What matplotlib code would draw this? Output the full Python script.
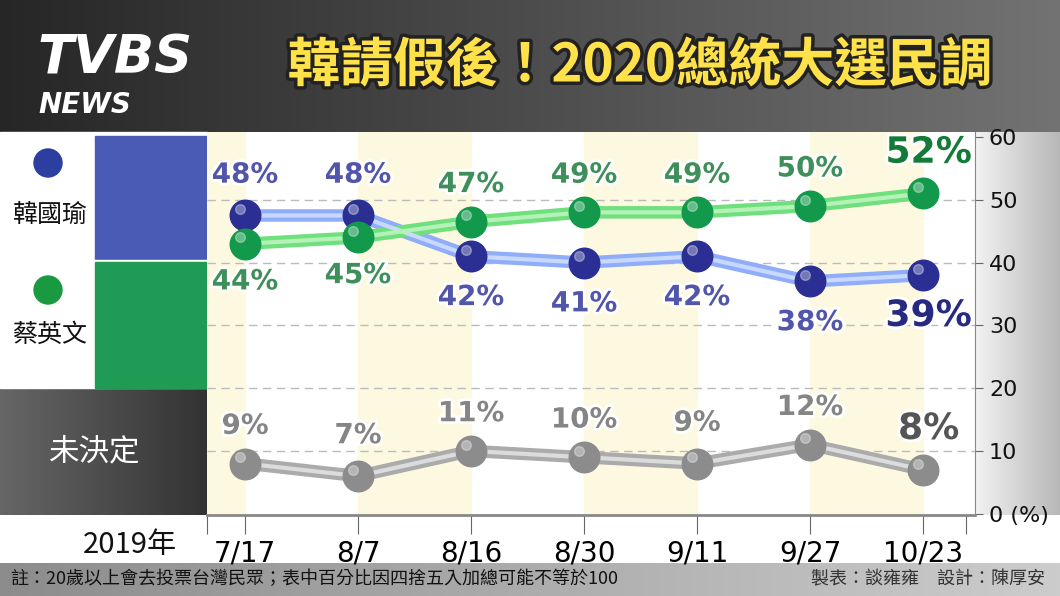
import matplotlib
matplotlib.use("Agg")
import matplotlib.pyplot as plt
import matplotlib.patheffects as pe
from matplotlib.patches import Rectangle, Circle
import numpy as np

plt.rcParams["font.family"] = ["Noto Sans CJK TC", "DejaVu Sans"]

DATES = ["7/17", "8/7", "8/16", "8/30", "9/11", "9/27", "10/23"]
# labelled poll numbers
HAN = [48, 48, 42, 41, 42, 38, 39]
TSAI = [44, 45, 47, 49, 49, 50, 52]
UNDECIDED = [9, 7, 11, 10, 9, 12, 8]
# marker heights as drawn in the picture
HAN_MARK = [47.5, 47.5, 41, 40, 41, 37, 38]
TSAI_MARK = [43, 44, 46.5, 48, 48, 49, 51]
UND_MARK = [8, 6, 10, 9, 8, 11, 7]
Y_TICKS = [0, 10, 20, 30, 40, 50, 60]

W, H = 1060, 596
fig = plt.figure(figsize=(W / 100, H / 100), dpi=100)
fig.patch.set_facecolor("white")


def fx(px):
    return px / W


def fy(py):
    return 1 - py / H


# background layer in pixel coordinates
bg = fig.add_axes([0, 0, 1, 1])
bg.set_xlim(0, W)
bg.set_ylim(H, 0)
bg.axis("off")

# top banner gradient
grad = np.linspace(0.15, 0.45, 256).reshape(1, -1)
bg.imshow(np.dstack([grad] * 3), extent=(0, W, 132, 0), aspect="auto")
# right metallic strip
bg.imshow(np.dstack([np.linspace(0.95, 0.72, 64).reshape(1, -1)] * 3),
          extent=(975, W, 515, 132), aspect="auto")
# bottom note bar
bg.imshow(np.dstack([np.linspace(0.55, 0.8, 256).reshape(1, -1)] * 3),
          extent=(0, W, 596, 563), aspect="auto")

# left panel
bg.add_patch(Rectangle((0, 132), 207, 128, color="white"))
bg.add_patch(Rectangle((95, 136), 112, 124, color="#4a5bb5"))
bg.add_patch(Rectangle((0, 260), 207, 128, color="white"))
bg.add_patch(Rectangle((95, 262), 112, 126, color="#1f9b55"))
bg.imshow(np.dstack([np.linspace(0.4, 0.2, 64).reshape(1, -1)] * 3),
          extent=(0, 207, 515, 388), aspect="auto")
bg.add_patch(Circle((48, 163), 14, color="#2c3ea0"))
bg.add_patch(Circle((48, 290), 14, color="#1a9a40"))
bg.text(50, 215, "韓國瑜", fontsize=18, ha="center", va="center", color="#111")
bg.text(50, 335, "蔡英文", fontsize=18, ha="center", va="center", color="#111")
bg.text(95, 452, "未決定", fontsize=22, ha="center", va="center", color="white")

# banner text
bg.text(115, 58, "TVBS", fontsize=38, fontweight="bold", style="italic",
        color="white", ha="center", va="center", family="DejaVu Sans")
bg.text(85, 105, "NEWS", fontsize=20, fontweight="bold", style="italic",
        color="white", ha="center", va="center", family="DejaVu Sans")
bg.text(640, 66, "韓請假後！2020總統大選民調", fontsize=38, fontweight="bold",
        color="#ffe24a", ha="center", va="center",
        path_effects=[pe.withStroke(linewidth=5, foreground="#222")])

# date row
bg.text(130, 545, "2019年", fontsize=21, ha="center", va="center", color="#111")
bg.text(10, 579, "註：20歲以上會去投票台灣民眾；表中百分比因四捨五入加總可能不等於100",
        fontsize=13, va="center", color="#111")
bg.text(1045, 579, "製表：談雍雍　設計：陳厚安", fontsize=13, va="center",
        ha="right", color="#333")

# chart axes
x0, x1, ytop, ybot = 207, 975, 132, 515
ax = fig.add_axes([fx(x0), fy(ybot), fx(x1 - x0), fy(ytop) - fy(ybot)])
step = 113
xs = np.arange(len(DATES))
ax.set_xlim((x0 - 245) / step, (x1 - 245) / step)
ax.set_ylim(-0.2, (ybot - ytop) / 6.3)
ax.set_facecolor("white")
for i in range(-1, len(DATES), 2):
    lo = max(i, ax.get_xlim()[0])
    ax.axvspan(lo, i + 1, color="#fdf9e1", zorder=0)
for y in [10, 20, 30, 40, 50]:
    ax.axhline(y, color="#bbbbbb", lw=1, ls=(0, (6, 4)), zorder=1)

series = [
    (HAN_MARK, HAN, "#8fadf8", "#c9d8ff", "#2b2f93", "#5256aa", [6.5, 6.5, -6.5, -6.5, -6.5, -6.5, -6.5], "#262a80"),
    (TSAI_MARK, TSAI, "#70df7e", "#b5f2b8", "#12994b", "#3f8f5a", [-6, -6, 6, 6, 6, 6, 6.5], "#137a38"),
    (UND_MARK, UNDECIDED, "#ababab", "#dcdcdc", "#8c8c8c", "#858585", [6, 6.5, 6, 6, 6.5, 6, 6.5], "#555555"),
]
stroke = [pe.withStroke(linewidth=4, foreground="white")]
for marks, labels, lc, lc2, mc, tc, offs, last_c in series:
    ax.plot(xs, marks, color=lc, lw=9, zorder=2, solid_capstyle="butt")
    ax.plot(xs, marks, color=lc2, lw=3, zorder=3)
    ax.plot(xs, marks, "o", ms=22, color=mc, mec=mc, zorder=4)
    ax.plot(xs - 0.04, np.array(marks) + 1, "o", ms=7, color="white", alpha=0.35, zorder=5)
    for i, (m, v, o) in enumerate(zip(marks, labels, offs)):
        last = i == len(xs) - 1
        ax.text(xs[i] + (0.05 if last else 0), m + o, f"{v}%",
                fontsize=26 if last else 20, fontweight="bold" if last else "semibold",
                color=last_c if last else tc, ha="center", va="center",
                family="DejaVu Sans", path_effects=stroke, zorder=6)

for s in ["top", "left"]:
    ax.spines[s].set_visible(False)
ax.spines["right"].set_color("#888")
ax.spines["bottom"].set_color("#888")
ax.spines["bottom"].set_linewidth(2)
ax.yaxis.tick_right()
ax.set_yticks(Y_TICKS)
ax.set_yticklabels([f"{t}" if t else "0 (%)" for t in Y_TICKS], fontsize=16,
                   color="#111", family="DejaVu Sans")
for lbl in ax.get_yticklabels():
    lbl.set_horizontalalignment("left")
ax.tick_params(axis="y", length=6, color="#666", pad=4)
ax.set_xticks(list(xs) + [ax.get_xlim()[0], 6.38])
ax.set_xticklabels(DATES + ["", ""], fontsize=20, family="DejaVu Sans")
ax.tick_params(axis="x", length=14, color="#666", pad=4)

fig.savefig("out.png", dpi=100)
